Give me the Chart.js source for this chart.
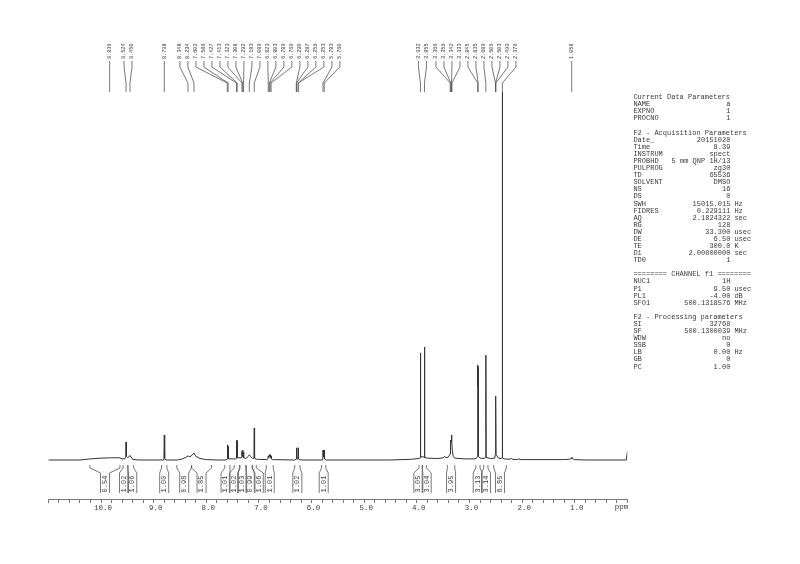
<!DOCTYPE html>
<html>
<head>
<meta charset="utf-8">
<script src="https://cdn.jsdelivr.net/npm/chart.js@4.4.1/dist/chart.umd.min.js"></script>
<style>
  html, body { margin: 0; padding: 0; background: #ffffff; }
  #wrap { width: 800px; height: 564px; }
</style>
</head>
<body>
<div id="wrap"><canvas id="c" width="800" height="564"></canvas></div>
<script>
// ---------- DATA ----------
// Spectrum trace: chemical shift (ppm) and relative intensity (tallest line = 100)
const tracePpm = [
  11.00, 10.40, 10.20, 10.00, 9.80, 9.65, 9.60, 9.55,
  9.530, 9.524, 9.518, 9.49, 9.46, 9.450, 9.43, 9.40, 9.30,
  8.82, 8.805, 8.798, 8.791, 8.77,
  8.55, 8.45, 8.38, 8.348, 8.31, 8.27, 8.234, 8.20, 8.12, 8.00, 7.80,
  7.62, 7.606, 7.602, 7.596, 7.590, 7.586, 7.580,
  7.44, 7.431, 7.427, 7.421, 7.417, 7.413, 7.408,
  7.33, 7.326, 7.323, 7.318, 7.311, 7.308, 7.303, 7.296, 7.292, 7.287,
  7.25, 7.20, 7.183, 7.16, 7.12, 7.095, 7.089, 7.083, 7.05,
  6.85, 6.828, 6.823, 6.813, 6.803, 6.796, 6.789, 6.779, 6.769, 6.764, 6.74,
  6.32, 6.295, 6.289, 6.283, 6.272, 6.261, 6.255, 6.249, 6.20,
  5.80, 5.788, 5.783, 5.772, 5.760, 5.755, 5.72,
  4.50, 4.10, 3.96, 3.937, 3.932, 3.927, 3.90, 3.86, 3.855, 3.85, 3.80,
  3.60, 3.50, 3.47, 3.45, 3.40, 3.37, 3.366, 3.36, 3.356, 3.348, 3.342, 3.338, 3.333, 3.325, 3.31, 3.28,
  3.10, 2.90, 2.86, 2.850, 2.845, 2.840, 2.835, 2.830, 2.80,
  2.72, 2.695, 2.689, 2.683, 2.60,
  2.52, 2.510, 2.506, 2.503, 2.499, 2.495, 2.45,
  2.40, 2.381, 2.376, 2.371, 2.34,
  2.25, 2.20, 2.19, 2.08, 2.06, 2.05, 1.96, 1.95, 1.94,
  1.20, 1.10, 1.065, 1.058, 1.050, 1.00, 0.80, 0.02, 0.00
];
const traceInt = [
  0, 0, 0.3, 0.5, 0.6, 0.6, 0.3, 0.3,
  1.0, 4.9, 1.0, 0.6, 1.1, 1.2, 0.8, 0.2, 0,
  0, 0.5, 6.8, 0.5, 0,
  0, 0.3, 0.8, 1.1, 0.9, 1.3, 1.9, 1.0, 0.4, 0.1, 0,
  0, 0.3, 4.1, 0.5, 0.5, 3.8, 0.3,
  0.3, 0.5, 5.4, 0.6, 0.6, 5.2, 0.6,
  0.6, 0.8, 2.4, 1.0, 1.0, 2.7, 1.0, 1.0, 2.2, 0.6,
  0.4, 1.0, 1.4, 0.9, 0.4, 0.5, 8.7, 0.5, 0.2,
  0.1, 0.3, 1.1, 0.7, 1.4, 1.0, 1.4, 0.7, 1.1, 0.3, 0.1,
  0, 0.3, 3.3, 0.3, 0.2, 0.3, 3.3, 0.3, 0,
  0, 0.3, 2.7, 0.8, 2.7, 0.3, 0,
  0, 0.2, 0.4, 0.6, 29.1, 0.8, 0.9, 0.8, 30.7, 0.7, 0.5,
  0.4, 0.6, 1.0, 0.6, 0.8, 1.6, 2.7, 4.0, 5.4, 5.0, 6.8, 5.0, 4.9, 2.5, 1.0, 0.5,
  0.3, 0.3, 0.6, 1.0, 25.8, 20.0, 25.3, 1.0, 0.5,
  0.4, 0.7, 28.5, 0.7, 0.4,
  0.5, 1.5, 15.0, 16.3, 17.4, 1.5, 0.5,
  0.4, 0.6, 100, 0.6, 0.3,
  0.2, 0.4, 0.2, 0.1, 0.4, 0.1, 0.1, 0.3, 0.1,
  0.1, 0.2, 0.4, 0.8, 0.4, 0.1, 0, 0, 2.3
];

// Peak picking labels (ppm)
const peakLabels = [
  9.836, 9.524, 9.450, 8.798, 8.348, 8.234, 7.602, 7.586, 7.427, 7.413,
  7.323, 7.308, 7.292, 7.183, 7.089, 6.823, 6.803, 6.789, 6.769,
  6.290, 6.287, 6.256, 6.253, 5.783, 5.760,
  3.932, 3.855, 3.366, 3.356, 3.342, 3.333, 2.845, 2.835, 2.689,
  2.506, 2.503, 2.499, 2.376, 1.058
];

// Integral regions (ppm) and values
const integralFrom = [10.21, 9.58, 9.49, 8.85, 8.56, 8.28, 7.65, 7.47, 7.36, 7.24, 7.12, 6.86, 6.32, 5.81, 3.96, 3.89, 3.42, 2.88, 2.73, 2.54];
const integralTo   = [9.64, 9.49, 9.38, 8.75, 8.28, 7.90, 7.55, 7.37, 7.25, 7.13, 7.05, 6.73, 6.22, 5.73, 3.90, 3.82, 3.28, 2.80, 2.65, 2.30];
const integralValues = ['0.54','1.02','1.06','1.00','0.98','1.85','1.01','1.02','1.03','0.99','1.06','1.01','1.02','1.01','3.05','3.04','3.95','3.13','3.14','6.85'];

// Axis tick labels (ppm)
const axisMajorTicks = [10, 9, 8, 7, 6, 5, 4, 3, 2, 1];
const axisUnit = 'ppm';

// Parameter block text: [name, value, unit]
const paramNames = [
  'Current Data Parameters', 'NAME', 'EXPNO', 'PROCNO', '',
  'F2 - Acquisition Parameters', 'Date_', 'Time', 'INSTRUM', 'PROBHD', 'PULPROG', 'TD', 'SOLVENT', 'NS', 'DS',
  'SWH', 'FIDRES', 'AQ', 'RG', 'DW', 'DE', 'TE', 'D1', 'TD0', '',
  '======== CHANNEL f1 ========', 'NUC1', 'P1', 'PL1', 'SFO1', '',
  'F2 - Processing parameters', 'SI', 'SF', 'WDW', 'SSB', 'LB', 'GB', 'PC'
];
const paramValues = [
  '', 'a', '1', '1', '',
  '', '20151020', '8.39', 'spect', '5 mm QNP 1H/13', 'zg30', '65536', 'DMSO', '16', '0',
  '15015.015', '0.229111', '2.1824322', '128', '33.300', '6.50', '300.0', '2.00000000', '1', '',
  '', '1H', '9.50', '-4.00', '500.1318576', '',
  '', '32768', '500.1300039', 'no', '0', '0.00', '0', '1.00'
];
const paramUnits = [
  '', '', '', '', '',
  '', '', '', '', '', '', '', '', '', '',
  'Hz', 'Hz', 'sec', '', 'usec', 'usec', 'K', 'sec', '', '',
  '', '', 'usec', 'dB', 'MHz', '',
  '', '', 'MHz', '', '', 'Hz', '', ''
];

// ---------- helpers ----------
function spread(xs, gap) {
  const idx = xs.map((x, i) => i).sort((a, b) => xs[a] - xs[b]);
  let clusters = idx.map(i => ({ m: [i], c: xs[i] }));
  let merged = true;
  while (merged) {
    merged = false;
    for (let k = 0; k < clusters.length - 1; k++) {
      const A = clusters[k], B = clusters[k + 1];
      const aEnd = A.c + (A.m.length - 1) / 2 * gap;
      const bStart = B.c - (B.m.length - 1) / 2 * gap;
      if (bStart - aEnd < gap - 1e-9) {
        const m = A.m.concat(B.m);
        const c = m.reduce((s, i) => s + xs[i], 0) / m.length;
        clusters.splice(k, 2, { m, c });
        merged = true;
        break;
      }
    }
  }
  const pos = [];
  clusters.forEach(C => C.m.forEach((i, j) => { pos[i] = C.c + (j - (C.m.length - 1) / 2) * gap; }));
  return pos;
}

const MONO = '"Liberation Mono", "DejaVu Sans Mono", monospace';
const INK = '#3a3a3a';

const annotations = {
  id: 'nmrAnnotations',
  afterDatasetsDraw(chart) {
    const ctx = chart.ctx;
    const xs = chart.scales.x;
    const ys = chart.scales.y;
    const base = ys.getPixelForValue(0);
    const area = chart.chartArea;
    ctx.save();
    ctx.strokeStyle = '#555';
    ctx.fillStyle = INK;
    ctx.lineWidth = 0.8;

    // ---- peak labels ----
    const peakPx = peakLabels.map(p => xs.getPixelForValue(p));
    const labPx = spread(peakPx, 8);
    const textBottom = area.top + 19;
    ctx.font = '5.2px ' + MONO;
    peakLabels.forEach((p, i) => {
      const lx = labPx[i], px = peakPx[i];
      ctx.beginPath();
      ctx.moveTo(lx, textBottom + 2);
      ctx.lineTo(lx, textBottom + 8);
      ctx.lineTo(px, textBottom + 24);
      ctx.lineTo(px, textBottom + 33);
      ctx.stroke();
      ctx.save();
      ctx.translate(lx, textBottom);
      ctx.rotate(-Math.PI / 2);
      ctx.textAlign = 'left';
      ctx.textBaseline = 'middle';
      ctx.fillText(p.toFixed(3), 0, 0);
      ctx.restore();
    });

    // ---- integrals ----
    const cen = integralFrom.map((f, i) => xs.getPixelForValue((f + integralTo[i]) / 2));
    const ipos = spread(cen, 8.3);
    const hw = 4.5;
    ctx.font = '7px ' + MONO;
    integralValues.forEach((v, i) => {
      const x1 = xs.getPixelForValue(integralFrom[i]);
      const x2 = xs.getPixelForValue(integralTo[i]);
      const lx = ipos[i];
      const t = base + 5;
      ctx.beginPath();
      ctx.moveTo(x1, t); ctx.lineTo(x1, t + 3); ctx.lineTo(lx - hw, t + 8); ctx.lineTo(lx - hw, t + 28);
      ctx.moveTo(x2, t); ctx.lineTo(x2, t + 3); ctx.lineTo(lx + hw, t + 8); ctx.lineTo(lx + hw, t + 28);
      ctx.stroke();
      ctx.save();
      ctx.translate(lx, t + 19);
      ctx.rotate(-Math.PI / 2);
      ctx.textAlign = 'center';
      ctx.textBaseline = 'middle';
      ctx.fillText(v, 0, 0);
      ctx.restore();
    });

    // ---- unit label ----
    ctx.font = '7.5px ' + MONO;
    ctx.textAlign = 'center';
    ctx.textBaseline = 'middle';
    ctx.fillText(axisUnit, area.right - 6, area.bottom + 8);

    // ---- parameter block ----
    const px0 = area.right + 6, pxv = area.right + 103, pxu = area.right + 107;
    ctx.font = '7px ' + MONO;
    paramNames.forEach((n, i) => {
      const y = 97.3 + i * 7.09;
      ctx.textBaseline = 'middle';
      ctx.textAlign = 'left';
      if (n) ctx.fillText(n, px0, y);
      if (paramValues[i]) { ctx.textAlign = 'right'; ctx.fillText(paramValues[i], pxv, y); }
      if (paramUnits[i]) { ctx.textAlign = 'left'; ctx.fillText(paramUnits[i], pxu, y); }
    });
    ctx.restore();
  }
};

const chart = new Chart(document.getElementById('c'), {
  type: 'line',
  data: {
    datasets: [{
      data: tracePpm.map((p, i) => ({ x: p, y: traceInt[i] })),
      borderColor: '#333',
      borderWidth: 1,
      pointRadius: 0,
      tension: 0,
      fill: false
    }]
  },
  options: {
    responsive: false,
    animation: false,
    devicePixelRatio: 1,
    layout: { padding: { left: 48.4, right: 172.6, top: 40, bottom: 50 } },
    plugins: { legend: { display: false }, tooltip: { enabled: false } },
    scales: {
      x: {
        type: 'linear',
        reverse: true,
        min: 0,
        max: 11,
        afterFit(scale) { scale.height = 15; },
        afterBuildTicks(scale) {
          const t = [];
          for (let k = 0; k <= 55; k++) t.push({ value: k / 5 });
          scale.ticks = t;
        },
        ticks: {
          autoSkip: false,
          maxRotation: 0,
          padding: 1,
          labelOffset: 2,
          color: INK,
          font: { family: MONO, size: 7.5 },
          callback(v) {
            const r = Math.round(v);
            return (Math.abs(v - r) < 1e-6 && axisMajorTicks.includes(r)) ? r.toFixed(1) : '';
          }
        },
        grid: { drawOnChartArea: false, drawTicks: true, tickLength: 4, color: '#555', lineWidth: 0.8 },
        border: { display: true, color: '#555', width: 0.8 }
      },
      y: {
        display: false,
        min: -10.6,
        max: 114.13
      }
    }
  },
  plugins: [annotations]
});
</script>
</body>
</html>
